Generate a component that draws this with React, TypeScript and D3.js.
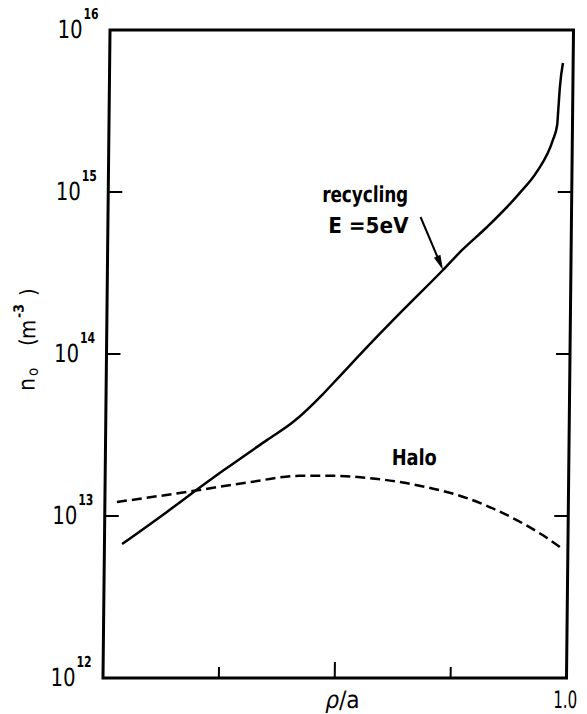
import * as d3 from 'd3'

// neutral density profiles
const rho = [0.038, 0.134, 0.192, 0.256, 0.348, 0.404, 0.468, 0.504, 0.568, 0.639, 0.724, 0.765, 0.818, 0.888, 0.924, 0.958, 0.967, 0.969, 0.972, 0.978]
const recycling = [6.71e12, 1.06e13, 1.41e13, 1.92e13, 2.94e13, 3.8e13, 5.66e13, 7.31e13, 1.15e14, 1.87e14, 3.3e14, 4.39e14, 6.08e14, 9.87e14, 1.33e15, 2.09e15, 2.59e15, 3.21e15, 4.45e15, 6.25e15]

const rhoHalo = [0.026, 0.192, 0.313, 0.42, 0.491, 0.565, 0.673, 0.781, 0.89, 0.946, 0.989]
const halo = [1.22e13, 1.43e13, 1.62e13, 1.77e13, 1.77e13, 1.72e13, 1.55e13, 1.29e13, 9.4e12, 7.6e12, 6.25e12]

const xTicks = [0.25, 0.5, 0.75]
const yExponents = [12, 13, 14, 15, 16]
const innerYTicks = [13, 14, 15]

const W = 587
const H = 714
const font = '"DejaVu Sans Condensed", "Liberation Sans Narrow", "DejaVu Sans", sans-serif'

export default function App() {
  const x = d3.scaleLinear().domain([0, 1]).range([106.5, 570])
  const y = d3.scaleLog().domain([1e12, 1e16]).range([678, 30])

  const line = d3
    .line<[number, number]>()
    .x((d) => x(d[0]))
    .y((d) => y(d[1]))
    .curve(d3.curveMonotoneX)

  const solidPath = line(rho.map((r, i) => [r, recycling[i]]))
  const haloPath = line(rhoHalo.map((r, i) => [r, halo[i]]))

  const [x0, x1] = x.range()
  const yTop = y(1e16)
  const yBot = y(1e12)

  // arrow from the label to the recycling curve
  const tip: [number, number] = [x(0.724), y(3.3e14)]
  const tail: [number, number] = [tip[0] - 23, tip[1] - 53]
  const len = Math.hypot(tip[0] - tail[0], tip[1] - tail[1])
  const ux = (tip[0] - tail[0]) / len
  const uy = (tip[1] - tail[1]) / len
  const hl = 15
  const hw = 3.5
  const head = `M${tip[0]},${tip[1]} L${tip[0] - hl * ux - hw * uy},${tip[1] - hl * uy + hw * ux} L${tip[0] - hl * ux + hw * uy},${tip[1] - hl * uy - hw * ux} Z`

  // the scan is slightly sheared
  const shear = `translate(0,354) skewX(-0.62) translate(0,-354)`

  return (
    <div style={{ position: 'absolute', left: 0, top: 0 }}>
      <svg width={W} height={H} style={{ display: 'block', background: '#fff' }}>
        <g transform={shear} fill="#000" fontFamily={font}>
          <rect x={x0} y={yTop} width={x1 - x0} height={yBot - yTop} fill="none" stroke="#000" strokeWidth={3} />

          {innerYTicks.map((e) => (
            <g key={e} stroke="#000" strokeWidth={2}>
              <line x1={x0} x2={x0 + 14} y1={y(10 ** e)} y2={y(10 ** e)} />
              <line x1={x1} x2={x1 - 14} y1={y(10 ** e)} y2={y(10 ** e)} />
            </g>
          ))}
          {xTicks.map((t) => (
            <line key={t} x1={x(t)} x2={x(t)} y1={yBot} y2={yBot - (t === 0.5 ? 16 : 11)} stroke="#000" strokeWidth={2} />
          ))}

          {yExponents.map((e) => (
            <g key={e}>
              <text x={54} y={y(10 ** e) + 8} fontSize={25} textLength={25} lengthAdjust="spacingAndGlyphs">
                10
              </text>
              <text x={80} y={y(10 ** e) - 11} fontSize={15} fontWeight="bold" textLength={15} lengthAdjust="spacingAndGlyphs">
                {e}
              </text>
            </g>
          ))}

          <text x={x(1) - 1} y={708} fontSize={24} textAnchor="middle" textLength={24} lengthAdjust="spacingAndGlyphs">
            1.0
          </text>
          <text x={x(0.5) + 8} y={708} fontSize={24} textAnchor="middle">
            <tspan fontStyle="italic">ρ</tspan>/a
          </text>

          <g transform="translate(35,391) rotate(-90)">
            <text x={0} y={0} fontSize={23}>n</text>
            <text x={15} y={3} fontSize={15}>o</text>
            <text x={45} y={0} fontSize={22}>(</text>
            <text x={52} y={0} fontSize={22}>m</text>
            <text x={73} y={-12} fontSize={14} fontWeight="bold">-3</text>
            <text x={95} y={0} fontSize={22}>)</text>
          </g>

          <path d={solidPath ?? ''} fill="none" stroke="#000" strokeWidth={2.5} />
          <path d={haloPath ?? ''} fill="none" stroke="#000" strokeWidth={2.5} strokeDasharray="10,5" />

          <line x1={tail[0]} y1={tail[1]} x2={tip[0] - 6 * ux} y2={tip[1] - 6 * uy} stroke="#000" strokeWidth={2} />
          <path d={head} fill="#000" />

          <text x={320.5} y={202} fontSize={22} fontWeight="bold" textLength={86} lengthAdjust="spacingAndGlyphs">
            recycling
          </text>
          <text x={327} y={233} fontSize={22} fontWeight="bold" textLength={80} lengthAdjust="spacingAndGlyphs">
            E =5eV
          </text>
          <text x={393} y={465} fontSize={22} fontWeight="bold" textLength={45} lengthAdjust="spacingAndGlyphs">
            Halo
          </text>
        </g>
      </svg>
    </div>
  )
}
